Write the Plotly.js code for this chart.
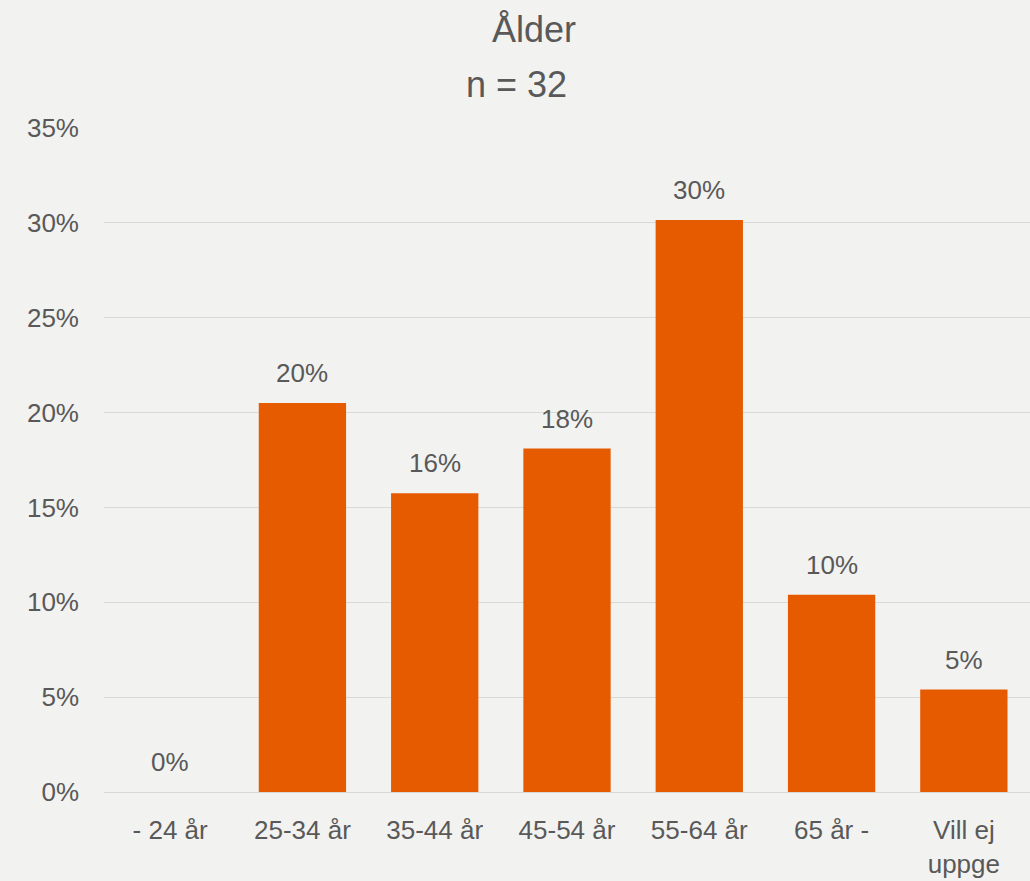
<!DOCTYPE html>
<html><head><meta charset="utf-8">
<script src="https://cdn.plot.ly/plotly-3.0.1.min.js"></script>
<style>html,body{margin:0;padding:0;background:#f2f2f0;}#chart{width:1030px;height:881px;}</style>
</head><body><div id="chart"></div>
<script>
const categories = ['- 24 år', '25-34 år', '35-44 år', '45-54 år', '55-64 år', '65 år -', 'Vill ej<br>uppge'];
const values = [0, 20.5, 15.75, 18.1, 30.15, 10.4, 5.4];
const labels = ['0%', '20%', '16%', '18%', '30%', '10%', '5%'];
const yTicks = [0, 5, 10, 15, 20, 25, 30, 35];
const yTickLabels = ['0%', '5%', '10%', '15%', '20%', '25%', '30%', '35%'];
const titleText = 'Ålder';
const subtitleText = 'n = 32';

const grey = '#595959';
const fam = 'Liberation Sans, Arial, sans-serif';
const labelAnns = categories.map((c, i) => ({
  x: c, y: values[i], xref: 'x', yref: 'y', text: labels[i], showarrow: false,
  yanchor: 'middle', yshift: 30, font: {family: fam, size: 26, color: grey}
}));
Plotly.newPlot('chart', [{
  type: 'bar', x: categories, y: values,
  marker: {color: '#e65a00'}, hoverinfo: 'none'
}], {
  width: 1030, height: 881,
  paper_bgcolor: '#f2f2f0', plot_bgcolor: '#f2f2f0',
  margin: {l: 104, r: 0, t: 128, b: 89},
  bargap: 0.34,
  showlegend: false,
  annotations: labelAnns.concat([
    {text: titleText, xref: 'paper', yref: 'paper', x: 0.4644, y: 1.1476, xanchor: 'center', yanchor: 'middle', showarrow: false,
      font: {family: fam, size: 36, color: grey}},
    {text: subtitleText, xref: 'paper', yref: 'paper', x: 0.446, y: 1.0648, xanchor: 'center', yanchor: 'middle', showarrow: false,
      font: {family: fam, size: 36, color: grey}}
  ]),
  xaxis: {showgrid: false, showline: false, zeroline: false, ticks: '', ticklabelstandoff: 20,
    tickfont: {family: fam, size: 26, color: grey}},
  yaxis: {range: [0, 35], tickvals: yTicks, ticktext: yTickLabels, showgrid: true, gridcolor: '#d9d9d9', gridwidth: 1,
    zeroline: true, zerolinecolor: '#d9d9d9', showline: false, ticks: '', ticklabelstandoff: 24,
    tickfont: {family: fam, size: 26, color: grey}}
}, {displayModeBar: false, staticPlot: true});
</script></body></html>
